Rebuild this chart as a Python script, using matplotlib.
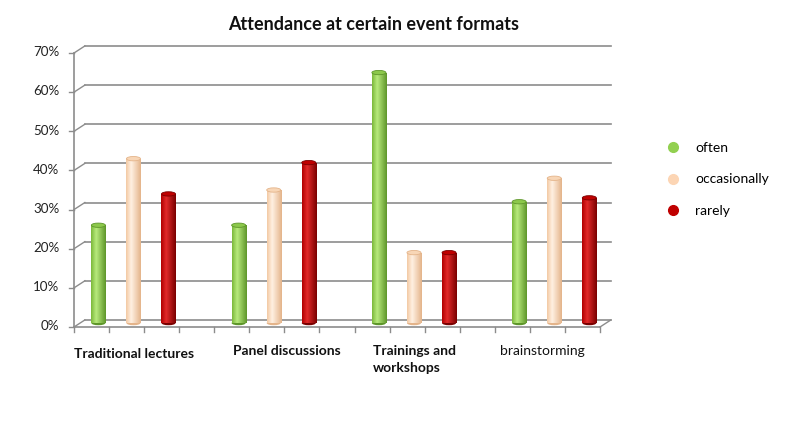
import matplotlib.pyplot as plt
import numpy as np
from matplotlib.patches import Ellipse
from matplotlib.lines import Line2D

plt.rcParams["font.family"] = ["Lato", "DejaVu Sans"]

# data (percent)
categories = ["Traditional lectures", "Panel discussions", "Trainings and\nworkshops", "brainstorming"]
series_names = ["often", "occasionally", "rarely"]
often = [25, 25, 64, 31]
occasionally = [42, 34, 18, 37]
rarely = [33, 41, 18, 32]
y_ticks = [0, 10, 20, 30, 40, 50, 60, 70]

series = [often, occasionally, rarely]
# (left-edge shade, highlight, right-edge shade)
palettes = [
    ("#7bb83a", "#b8ea7c", "#5e962a"),
    ("#f3c9a3", "#fff0e2", "#e4b48a"),
    ("#b00000", "#e22a2a", "#7a0000"),
]
top_colors = ["#8cc84b", "#f8d6b6", "#c00000"]
legend_colors = ["#92d050", "#fcd5b4", "#c00000"]

grid_c = "#8c8c8c"
slots = 15          # 3 bars per group + 1 gap slot between groups
dx, dy = 0.31, 1.8  # depth of the pseudo-3D back wall, in data units
base = 1.0          # bars sit half-way into the floor depth
bar_w = 0.4

fig = plt.figure(figsize=(7.97, 4.24), dpi=100)
ax = fig.add_axes([74 / 797, 97 / 424, 526 / 797, 274 / 424])
ax.set_xlim(0, slots)
ax.set_ylim(0, 70)
ax.axis("off")

# back wall gridlines with the little diagonal to the front axis
for v in y_ticks:
    ax.plot([dx, slots + dx], [v + dy, v + dy], color=grid_c, lw=1.2, clip_on=False, zorder=1)
    ax.plot([0, dx], [v, v + dy], color=grid_c, lw=1.0, clip_on=False, zorder=1)
    ax.plot([-0.13, 0], [v, v], color=grid_c, lw=1.0, clip_on=False, zorder=1)
    ax.text(-0.42, v + 0.2, f"{v}%", ha="right", va="center", fontsize=9.6, color="#222222")

# front axis lines
ax.plot([0, 0], [0, 70], color=grid_c, lw=1.2, clip_on=False, zorder=1)
ax.plot([0, slots], [0, 0], color=grid_c, lw=1.2, clip_on=False, zorder=1)
ax.plot([slots, slots + dx], [0, dy], color=grid_c, lw=1.0, clip_on=False, zorder=1)
for i in range(slots + 1):
    ax.plot([i, i], [0, -1.3], color=grid_c, lw=1.0, clip_on=False, zorder=1)

# cylinder bars
grad = np.linspace(0, 1, 64)
for s, vals in enumerate(series):
    left, mid, right = [np.array(plt.matplotlib.colors.to_rgb(c)) for c in palettes[s]]
    rows = []
    for t in grad:
        if t < 0.35:
            rows.append(left + (mid - left) * (t / 0.35))
        else:
            rows.append(mid + (right - mid) * ((t - 0.35) / 0.65))
    img = np.array(rows)[None, :, :]
    for g, v in enumerate(vals):
        xc = g * 4 + s + 0.5 + dx / 2 + 0.04
        top = v + base
        bars = ax.bar(xc, top - base, bottom=base, width=bar_w, color=palettes[s][1], lw=0, zorder=3)
        bar = bars[0]
        im = ax.imshow(img, extent=[xc - bar_w / 2, xc + bar_w / 2, base, top],
                       aspect="auto", zorder=3, interpolation="bilinear")
        im.set_clip_path(bar)
        ax.add_patch(Ellipse((xc, base), bar_w, 1.1, color=palettes[s][2], zorder=2.9, lw=0))
        ax.add_patch(Ellipse((xc, top), bar_w, 1.1, facecolor=top_colors[s],
                             edgecolor=palettes[s][2], lw=0.6, zorder=4))

# category labels under each group
label_x = [74, 233, 373, 500]
label_y = [348, 345, 345, 345]
for g, name in enumerate(categories):
    weight = "normal" if name == "brainstorming" else "bold"
    fig.text(label_x[g] / 797, 1 - label_y[g] / 424, name, ha="left", va="top",
             fontsize=10, fontweight=weight, color="#111111", linespacing=1.5)

fig.text(374 / 797, 1 - 25 / 424, "Attendance at certain event formats",
         ha="center", va="center", fontsize=13, fontweight="bold", color="#111111")

handles = [Line2D([], [], ls="", marker="o", ms=7, mfc=c, mec=c) for c in legend_colors]
fig.legend(handles, series_names, loc="upper left", bbox_to_anchor=(652 / 797, 1 - 135 / 424),
           frameon=False, fontsize=10, labelspacing=1.4, handletextpad=0.6, borderpad=0)

fig.savefig("out.png", dpi=100, facecolor="white")
